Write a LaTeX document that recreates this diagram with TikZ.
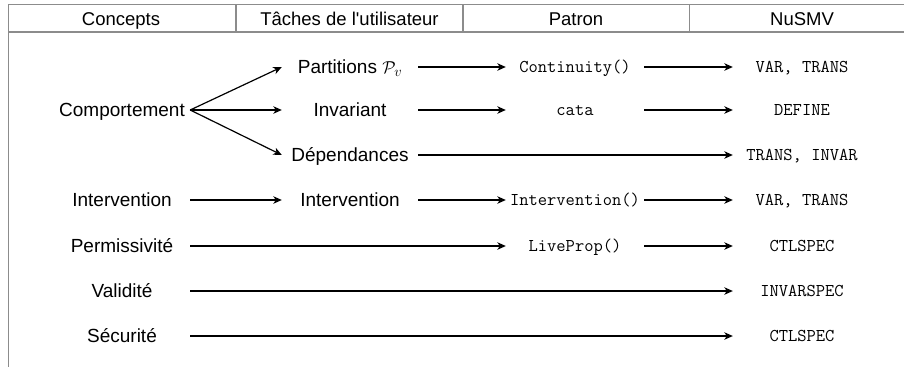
\documentclass[tikz,border=0pt]{standalone}
\usepackage{fontspec}
\setmainfont{Liberation Sans}
\usetikzlibrary{arrows.meta}
\begin{document}
\begin{tikzpicture}[x=1pt,y=-1pt,
  grid/.style={draw=black!45, line width=1.4pt},
  hdr/.style={font=\fontsize{18.5}{22}\selectfont, inner sep=0pt, text height=13.2pt, text depth=0pt},
  lab/.style={font=\fontsize{19}{23}\selectfont, inner sep=0pt, text height=13.6pt, text depth=0pt, minimum width=136pt},
  code/.style={font=\ttfamily\fontsize{18}{21}\selectfont, inner sep=0pt, text height=11pt, text depth=0pt, minimum width=138pt},
  arr/.style={-{Stealth[length=8.5pt,width=7.5pt,inset=2.5pt]}, line width=1.2pt}
]
\useasboundingbox (0,0) rectangle (904,367);
% table frame
\draw[grid] (904,4.5) -- (8.5,4.5) -- (8.5,367);
\draw[grid] (8.5,32) -- (904,32);
\draw[grid] (236,4.5) -- (236,32);
\draw[grid] (463,4.5) -- (463,32);
\draw[grid] (689.5,4.5) -- (689.5,32);
% headers
\node[hdr] (h1) at (121,18.5) {Concepts};
\node[hdr] (h2) at (349.5,18.5) {Tâches de l\textquotesingle utilisateur};
\node[hdr] (h3) at (576,18.5) {Patron};
\node[hdr] (h4) at (802,18.5) {NuSMV};
% column 1
\node[lab] (comp) at (122,110) {Comportement};
\node[lab] (int1) at (122,200) {Intervention};
\node[lab] (perm) at (122,246) {Permissivité};
\node[lab] (vali) at (122,291) {Validité};
\node[lab] (secu) at (122,336) {Sécurité};
% column 2
\node[lab] (part) at (350,67) {Partitions $\mathcal{P}_v$};
\node[lab] (inva) at (350,110) {Invariant};
\node[lab] (depe) at (350,155) {Dépendances};
\node[lab] (int2) at (350,200) {Intervention};
% column 3
\node[code] (cont) at (575,67) {Continuity()};
\node[code] (cata) at (575,110) {cata};
\node[code] (int3) at (575,200) {Intervention()};
\node[code] (live) at (575,246) {LiveProp()};
% column 4
\node[code] (n1) at (802,67) {VAR, TRANS};
\node[code] (n2) at (802,110) {DEFINE};
\node[code] (n3) at (802,155) {TRANS, INVAR};
\node[code] (n4) at (802,200) {VAR, TRANS};
\node[code] (n5) at (802,246) {CTLSPEC};
\node[code] (n6) at (802,291) {INVARSPEC};
\node[code] (n7) at (802,336) {CTLSPEC};
% connectors
\draw[arr] (comp.east) -- (part.west);
\draw[arr] (comp.east) -- (inva.west);
\draw[arr] (comp.east) -- (depe.west);
\draw[arr] (part) -- (cont);
\draw[arr] (cont) -- (n1);
\draw[arr] (inva) -- (cata);
\draw[arr] (cata) -- (n2);
\draw[arr] (depe) -- (n3);
\draw[arr] (int1) -- (int2);
\draw[arr] (int2) -- (int3);
\draw[arr] (int3) -- (n4);
\draw[arr] (perm) -- (live);
\draw[arr] (live) -- (n5);
\draw[arr] (vali) -- (n6);
\draw[arr] (secu) -- (n7);
\end{tikzpicture}
\end{document}
